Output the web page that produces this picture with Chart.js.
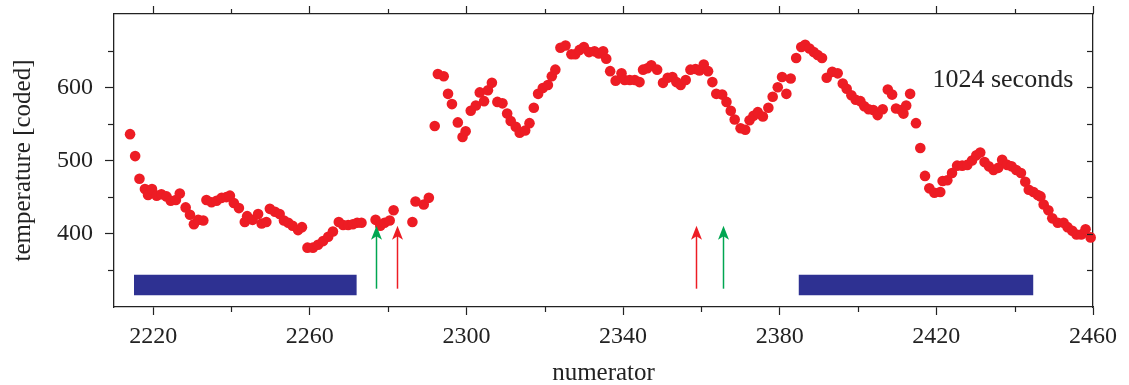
<!DOCTYPE html>
<html><head><meta charset="utf-8">
<script src="https://cdn.jsdelivr.net/npm/chart.js@4/dist/chart.umd.min.js"></script>
<style>html,body{margin:0;padding:0;background:#fff;overflow:hidden}#wrap{width:1129px;height:385px}</style>
</head><body><div id="wrap"><canvas id="c" width="1129" height="385"></canvas></div>
<script>
// ---- data ----
const numerator = [
2214.1,2215.4,2216.5,2217.9,2218.7,2219.7,2220.9,2222.1,2223.4,2224.5,2225.8,2226.8,2228.3,2229.4,2230.4,2231.5,2232.8,2233.6,2234.9,2236.2,
2237.5,2238.7,2239.6,2240.6,2241.9,2243.4,2244.0,2245.4,2246.8,2247.7,2248.9,2249.8,2251.1,2252.3,2253.4,2254.5,2255.6,2257.0,2258.0,2259.4,
2260.8,2262.1,2263.4,2264.7,2265.9,2267.4,2268.5,2269.8,2271.0,2272.1,2273.2,2276.8,2278.0,2279.1,2280.4,2281.4,2286.2,2287.0,2289.1,2290.4,
2291.9,2292.7,2294.2,2295.3,2296.3,2297.8,2299.0,2299.8,2301.1,2302.4,2303.4,2304.5,2305.5,2306.5,2307.9,2309.2,2310.4,2311.3,2312.6,2313.6,
2315.0,2316.1,2317.2,2318.3,2319.5,2320.8,2321.8,2322.7,2324.0,2325.3,2326.8,2327.8,2328.9,2330.0,2331.3,2332.7,2333.8,2334.9,2335.7,2336.7,
2338.1,2339.6,2340.4,2341.7,2343.0,2344.2,2345.1,2346.2,2347.2,2348.7,2350.2,2351.4,2352.6,2353.6,2354.7,2356.0,2357.2,2358.5,2359.5,2360.6,
2361.7,2362.8,2363.8,2365.3,2366.4,2367.5,2368.5,2370.0,2371.2,2372.3,2373.3,2374.4,2375.7,2377.1,2378.2,2379.5,2380.6,2381.7,2382.8,2384.2,
2385.5,2386.5,2387.6,2388.7,2389.7,2390.8,2392.0,2393.4,2394.8,2396.1,2397.1,2398.3,2399.4,2400.6,2401.6,2402.7,2403.9,2405.0,2406.3,2407.6,
2408.7,2409.7,2411.0,2411.6,2412.3,2413.3,2414.8,2415.9,2417.1,2418.2,2419.5,2421.0,2421.6,2422.8,2424.0,2425.3,2426.6,2427.9,2429.1,2430.2,
2431.2,2432.3,2433.4,2434.6,2435.8,2436.8,2438.1,2439.2,2440.4,2441.6,2442.7,2443.6,2444.8,2445.9,2446.6,2447.4,2448.6,2449.6,2451.0,2452.5,
2453.5,2454.7,2455.8,2457.0,2458.1,2459.4
];
const temperature = [
536,506,475,461,453,461,452,454,451,445,446,455,436,426,413,419,418,446,443,445,
449,450,452,442,435,416,424,419,427,414,416,434,430,427,418,415,411,405,409,381,
381,385,390,396,403,416,412,412,413,415,415,419,411,415,418,432,416,444,440,449,
547,618,615,591,577,552,532,540,568,575,593,581,596,606,580,578,564,554,546,538,
541,551,572,591,599,603,615,624,654,657,645,645,651,655,648,649,646,649,639,622,
609,619,610,610,610,607,624,626,630,624,606,613,614,607,603,610,624,625,623,631,
622,607,591,590,580,568,556,544,542,555,561,566,560,572,587,600,614,591,612,640,
655,658,653,648,644,640,613,621,619,605,598,589,583,581,574,570,569,562,570,597,
590,571,569,564,575,591,551,517,479,462,456,457,472,473,483,493,493,494,500,507,
511,498,492,487,490,501,494,492,487,483,471,460,457,453,451,440,432,421,415,415,
409,404,399,399,406,395
];
// blue bars (interval on numerator, extent in temperature)
const barStart = [2215.1, 2384.8];
const barEnd   = [2272.0, 2444.8];
const barLow   = [316, 316];
const barHigh  = [344, 344];
// arrows
const arrowX     = [2276.8, 2282.2, 2358.7, 2365.6];
const arrowKind  = ['green', 'red', 'red', 'green'];
const arrowFrom  = [325, 325, 325, 325];
const arrowTo    = [411, 411, 411, 411];
// annotation
const noteText = '1024 seconds';
const noteAt = [2419.0, 601];
// ticks
const xTickValues = [2220,2240,2260,2280,2300,2320,2340,2360,2380,2400,2420,2440,2460];
const xTickLabels = [2220,2260,2300,2340,2380,2420,2460];
const yTickValues = [350,400,450,500,550,600,650];
const yTickLabels = [400,500,600];

const RED = '#ED1C24', BLUE = '#2E3192', GREEN = '#00A651', INK = '#222222';
const FONT = 'Liberation Serif';

const points = numerator.map((x, i) => ({x, y: temperature[i]}));
const barSets = barStart.map((s, i) => ({
  type: 'line',
  data: [{x: s, y: barHigh[i]}, {x: barEnd[i], y: barHigh[i]}],
  fill: {value: barLow[i]},
  backgroundColor: BLUE, borderColor: BLUE, borderWidth: 0,
  pointRadius: 0, order: 2
}));

const overlay = {
  id: 'overlay',
  afterDatasetsDraw(chart) {
    const {ctx, chartArea: a} = chart;
    const xs = chart.scales.x, ys = chart.scales.y;
    ctx.save();
    // arrows
    arrowX.forEach((v, i) => {
      const px = Math.round(xs.getPixelForValue(v)) + 0.5;
      const y0 = ys.getPixelForValue(arrowFrom[i]);
      const y1 = ys.getPixelForValue(arrowTo[i]);
      const col = arrowKind[i] === 'green' ? GREEN : RED;
      ctx.strokeStyle = col; ctx.fillStyle = col; ctx.lineWidth = 1.5;
      ctx.beginPath(); ctx.moveTo(px, y0); ctx.lineTo(px, y1 + 8); ctx.stroke();
      ctx.beginPath();
      ctx.moveTo(px, y1);
      ctx.lineTo(px + 5.5, y1 + 14);
      ctx.lineTo(px, y1 + 10.5);
      ctx.lineTo(px - 5.5, y1 + 14);
      ctx.closePath(); ctx.fill();
    });
    // annotation text
    ctx.fillStyle = INK;
    ctx.font = '26px "' + FONT + '"';
    ctx.textAlign = 'left'; ctx.textBaseline = 'alphabetic';
    ctx.fillText(noteText, xs.getPixelForValue(noteAt[0]), ys.getPixelForValue(noteAt[1]));
    // short minor ticks (outside) on left / bottom / top, inward ticks on right
    ctx.strokeStyle = INK; ctx.lineWidth = 1.2;
    yTickValues.forEach(v => {
      const py = Math.round(ys.getPixelForValue(v)) + 0.5;
      ctx.beginPath(); ctx.moveTo(a.right - 6, py); ctx.lineTo(a.right, py); ctx.stroke();
      if (!yTickLabels.includes(v)) {
        ctx.beginPath(); ctx.moveTo(a.left - 6, py); ctx.lineTo(a.left, py); ctx.stroke();
      }
    });
    xTickValues.forEach(v => {
      if (xTickLabels.includes(v)) return;
      const px = Math.round(xs.getPixelForValue(v)) + 0.5;
      ctx.beginPath(); ctx.moveTo(px, a.bottom); ctx.lineTo(px, a.bottom + 5); ctx.stroke();
      ctx.beginPath(); ctx.moveTo(px, a.top); ctx.lineTo(px, a.top - 5); ctx.stroke();
    });
    ctx.restore();
  }
};

const setTicks = vals => s => { s.ticks = vals.map(v => ({value: v})); };
const tickFont = {family: FONT, size: 24, lineHeight: 1.2};
const noPadV = s => { s.paddingTop = 0; s.paddingBottom = 0; };
const majorOnly = labels => c => (c.tick && labels.includes(c.tick.value)) ? INK : 'rgba(0,0,0,0)';

new Chart(document.getElementById('c'), {
  type: 'scatter',
  data: {
    datasets: [
      {
        data: points, backgroundColor: RED, borderColor: RED, borderWidth: 0,
        pointRadius: 5.3, pointHoverRadius: 5.3, clip: false, order: 1
      },
      ...barSets
    ]
  },
  options: {
    responsive: false, animation: false, devicePixelRatio: 1,
    layout: {padding: 0},
    plugins: {legend: {display: false}, tooltip: {enabled: false}},
    events: [],
    scales: {
      x: {
        type: 'linear', position: 'bottom', min: 2210, max: 2460,
        afterBuildTicks: setTicks(xTickValues),
        afterFit: s => { s.height = 78; s.paddingLeft = 0; s.paddingRight = 0; },
        ticks: {
          autoSkip: false, maxRotation: 0, color: INK, font: tickFont, padding: 7,
          callback: v => xTickLabels.includes(v) ? String(v) : ''
        },
        grid: {drawOnChartArea: false, drawTicks: true, tickLength: 8, tickColor: majorOnly(xTickLabels), tickWidth: 1.2},
        border: {display: true, color: INK, width: 1.3},
        title: {display: true, text: 'numerator', color: INK,
          font: {family: FONT, size: 25, lineHeight: 0.9}, padding: {top: 0, bottom: 0}}
      },
      x2: {
        type: 'linear', position: 'top', min: 2210, max: 2460,
        afterBuildTicks: setTicks(xTickValues),
        afterFit: s => { s.height = 14; s.paddingLeft = 0; s.paddingRight = 0; },
        ticks: {display: false},
        grid: {drawOnChartArea: false, drawTicks: true, tickLength: 8, tickColor: majorOnly(xTickLabels), tickWidth: 1.2},
        border: {display: true, color: INK, width: 1.3}
      },
      y: {
        type: 'linear', position: 'left', min: 300, max: 700,
        afterBuildTicks: setTicks(yTickValues),
        afterFit: s => { s.width = 114; noPadV(s); },
        ticks: {
          color: INK, font: tickFont, padding: 12,
          callback: v => yTickLabels.includes(v) ? String(v) : ''
        },
        grid: {drawOnChartArea: false, drawTicks: true, tickLength: 9, tickColor: majorOnly(yTickLabels), tickWidth: 1.2},
        border: {display: true, color: INK, width: 1.3},
        title: {display: true, text: 'temperature [coded]', color: INK,
          font: {family: FONT, size: 25, lineHeight: 1}, padding: {top: 11, bottom: 0}}
      },
      y2: {
        type: 'linear', position: 'right', min: 300, max: 700,
        afterBuildTicks: setTicks(yTickValues),
        afterFit: s => { s.width = 36; noPadV(s); },
        ticks: {display: false},
        grid: {drawOnChartArea: false, drawTicks: false},
        border: {display: true, color: INK, width: 1.3}
      }
    }
  },
  plugins: [overlay]
});
</script>
</body></html>
